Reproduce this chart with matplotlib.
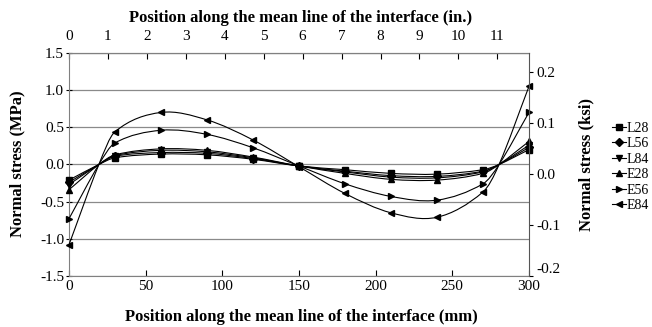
import matplotlib
matplotlib.use('Agg')
import matplotlib.pyplot as plt
import numpy as np
from matplotlib.path import Path
from matplotlib.patches import PathPatch
from matplotlib.lines import Line2D

plt.rcParams['font.family'] = ['Liberation Serif', 'DejaVu Serif']
plt.rcParams['font.size'] = 11

# position along interface (mm); 19.5 and 280.5 are the zero crossings (no marker)
pos = [0, 19.5, 30, 60, 90, 120, 150, 180, 210, 240, 270, 280.5, 300]

L28 = [-0.21, 0, 0.09, 0.14, 0.13, 0.07, -0.02, -0.07, -0.12, -0.13, -0.07, 0, 0.20]
L56 = [-0.24, 0, 0.11, 0.16, 0.15, 0.08, -0.02, -0.09, -0.15, -0.16, -0.09, 0, 0.23]
L84 = [-0.27, 0, 0.12, 0.19, 0.17, 0.09, -0.02, -0.10, -0.17, -0.18, -0.10, 0, 0.26]
E28 = [-0.34, 0, 0.13, 0.21, 0.19, 0.10, -0.02, -0.12, -0.20, -0.21, -0.12, 0, 0.31]
E56 = [-0.73, 0, 0.29, 0.46, 0.405, 0.225, -0.02, -0.26, -0.43, -0.48, -0.26, 0, 0.70]
E84 = [-1.08, 0, 0.44, 0.70, 0.60, 0.33, -0.03, -0.39, -0.65, -0.71, -0.37, 0, 1.05]

series = [('L28', L28, 's', 5), ('L56', L56, 'D', 4), ('L84', L84, 'v', 5),
          ('E28', E28, '^', 5), ('E56', E56, '>', 5), ('E84', E84, '<', 5)]
marked = [0, 2, 3, 4, 5, 6, 7, 8, 9, 10, 12]


def smooth_path(x, y):
    # cubic bezier through the points, tangents from neighbours (smoothed line look)
    x = np.asarray(x, float)
    y = np.asarray(y, float)
    n = len(x)
    m = np.zeros(n)
    for i in range(n):
        a = max(i - 1, 0)
        b = min(i + 1, n - 1)
        m[i] = (y[b] - y[a]) / (x[b] - x[a])
    verts = [(x[0], y[0])]
    codes = [Path.MOVETO]
    for i in range(n - 1):
        dx = x[i + 1] - x[i]
        verts += [(x[i] + dx / 3, y[i] + m[i] * dx / 3),
                  (x[i + 1] - dx / 3, y[i + 1] - m[i + 1] * dx / 3),
                  (x[i + 1], y[i + 1])]
        codes += [Path.CURVE4] * 3
    return Path(verts, codes)


fig = plt.figure(figsize=(6.52, 3.27), dpi=100)
ax = fig.add_axes([0.1058, 0.156, 0.7055, 0.682])

for name, vals, mk, ms in series:
    ax.add_patch(PathPatch(smooth_path(pos, vals), facecolor='none',
                           edgecolor='black', lw=0.8, zorder=3))
    ax.plot([pos[i] for i in marked], [vals[i] for i in marked], ls='none',
            marker=mk, ms=ms, color='black', clip_on=False, zorder=4)

ax.set_xlim(0, 300)
ax.set_ylim(-1.5, 1.5)
ax.set_xticks(range(0, 301, 50))
ax.set_yticks(np.arange(-1.5, 1.51, 0.5))
ax.set_yticklabels(['%.1f' % v for v in np.arange(-1.5, 1.51, 0.5)])
ax.yaxis.grid(True, color='#8a8a8a', lw=0.9)
ax.set_axisbelow(True)
ax.tick_params(axis='x', direction='in', length=4, pad=3)
ax.tick_params(axis='y', direction='inout', length=5, pad=1)
for s in ['left', 'bottom', 'top']:
    ax.spines[s].set_color('#808080')
ax.spines['right'].set_visible(False)

ax2 = ax.twinx()
ax2.set_ylim(-0.2, 0.237)
ax2.set_yticks([-0.2, -0.1, 0.0, 0.1, 0.2])
ax2.set_yticklabels(['-0.2', '-0.1', '0.0', '0.1', '0.2'])
ax2.tick_params(axis='y', direction='out', length=3, pad=2)
for s in ['left', 'bottom', 'top']:
    ax2.spines[s].set_visible(False)
ax2.spines['right'].set_color('#555555')
# keep the lowest ksi label clear of the "300" below it
ax2.get_yticklabels()[0].set_va('bottom')

top = ax.secondary_xaxis('top', functions=(lambda v: v / 25.4, lambda v: v * 25.4))
top.set_xticks(range(0, 12))
top.tick_params(direction='in', length=4, pad=7)
top.spines['top'].set_color('#808080')

fig.text(0.4615, 0.946, 'Position along the mean line of the interface (in.)',
         ha='center', va='center', fontweight='bold', fontsize=12)
fig.text(0.4615, 0.031, 'Position along the mean line of the interface (mm)',
         ha='center', va='center', fontweight='bold', fontsize=12)
fig.text(0.027, 0.498, 'Normal stress (MPa)', rotation=90,
         ha='center', va='center', fontweight='bold', fontsize=12)
fig.text(0.900, 0.498, 'Normal stress (ksi)', rotation=90,
         ha='center', va='center', fontweight='bold', fontsize=12)

handles = [Line2D([], [], color='black', lw=0.8, marker=mk, ms=ms)
           for name, vals, mk, ms in series]
fig.legend(handles, [s[0] for s in series], loc='center left',
           bbox_to_anchor=(0.9387, 0.489), frameon=False, handlelength=1.0,
           handletextpad=0.05, labelspacing=0.18, borderaxespad=0,
           borderpad=0, fontsize=10)

fig.savefig('out.png', dpi=100)
